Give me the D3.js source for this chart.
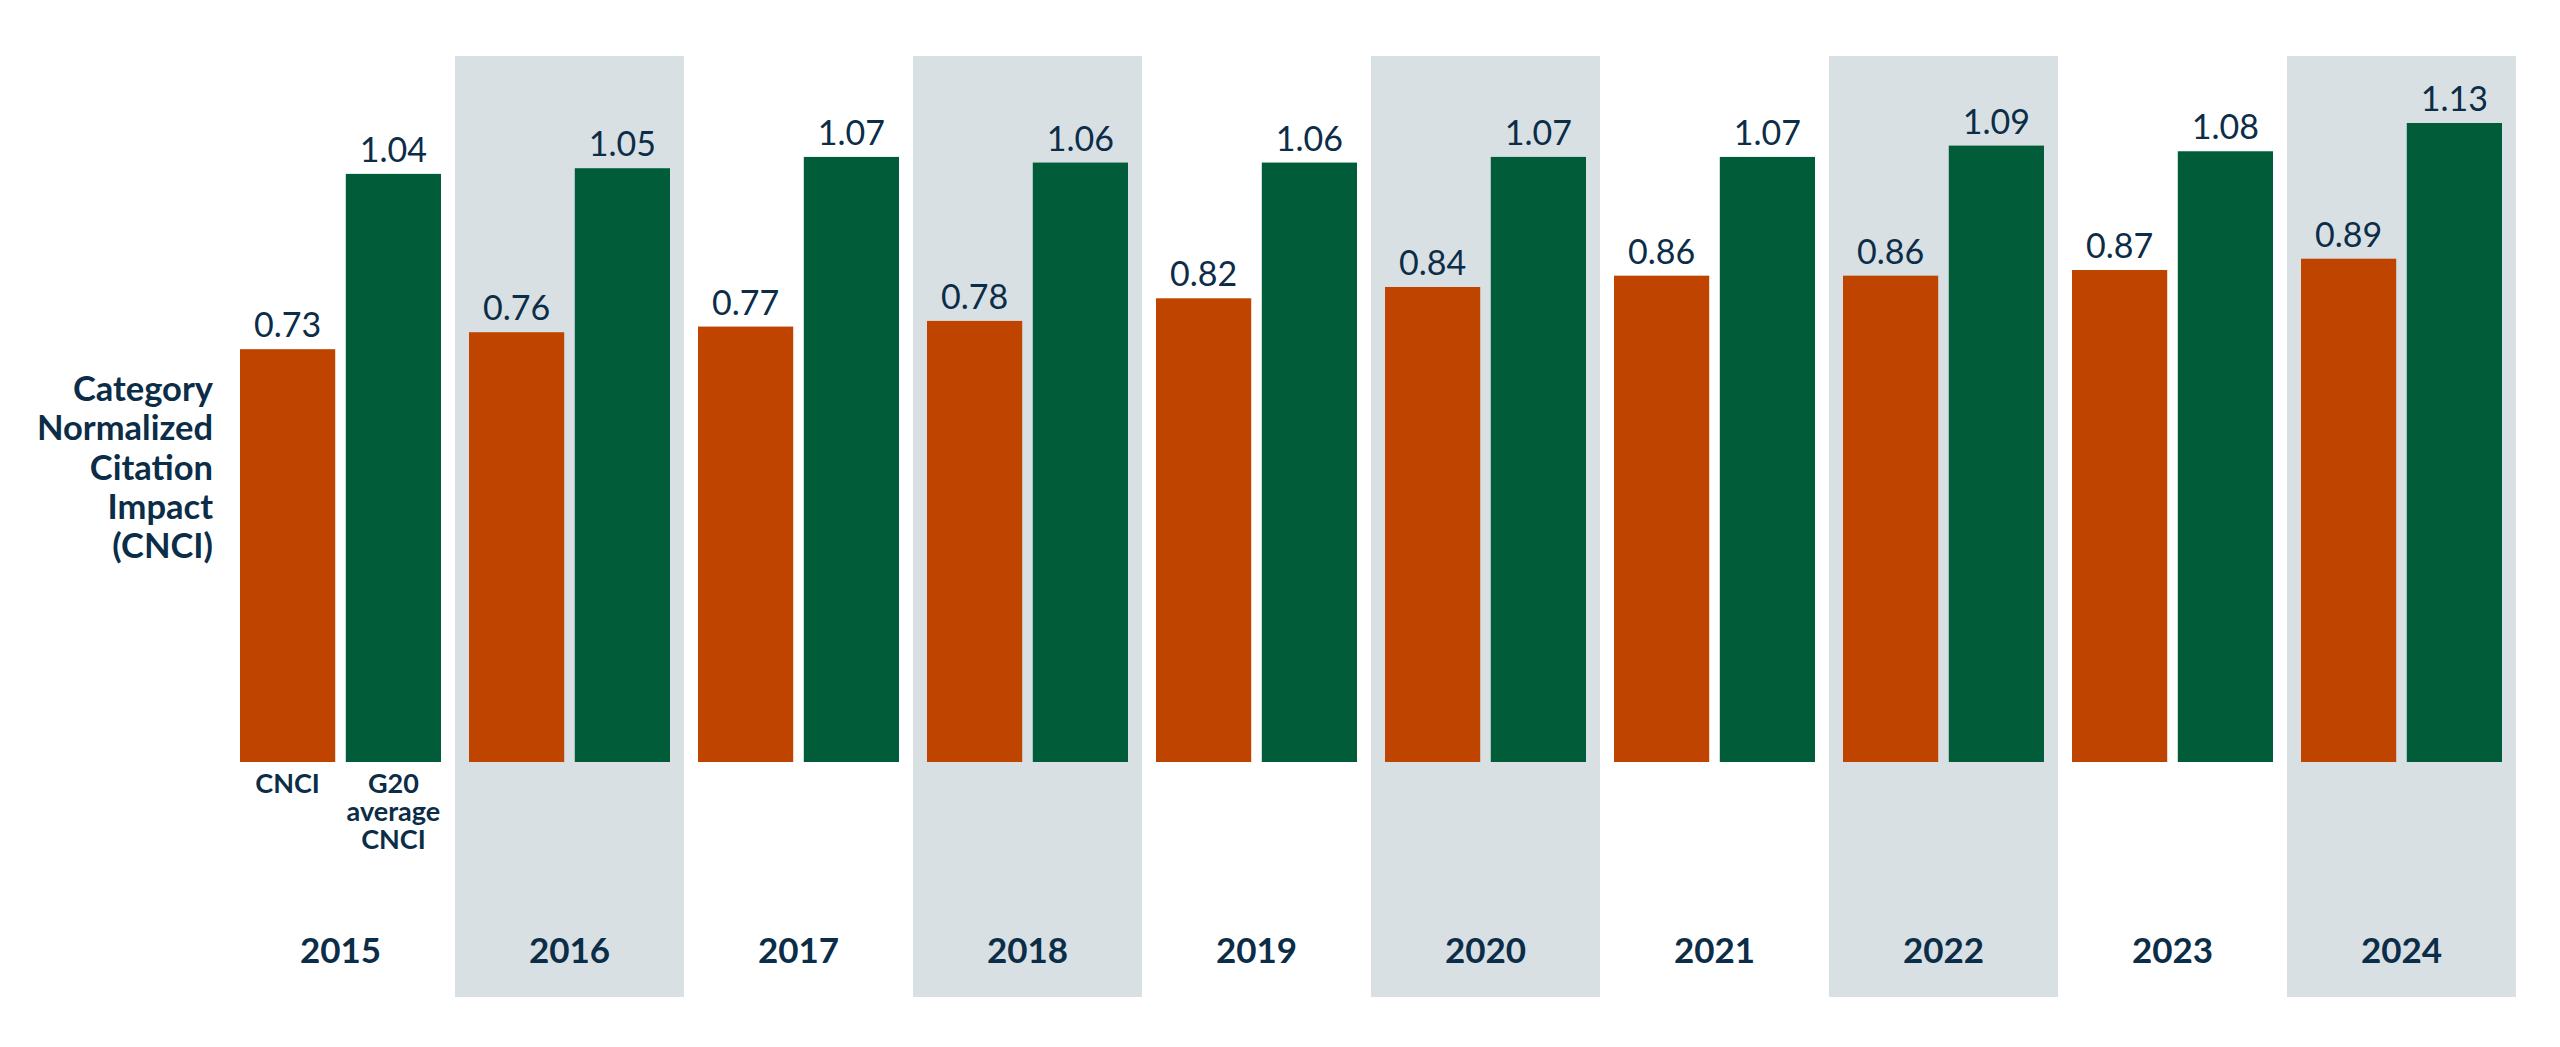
<!DOCTYPE html>
<html>
<head>
<meta charset="utf-8">
<script src="https://cdn.jsdelivr.net/npm/d3@7"></script>
<style>
  body { margin: 0; background: #fff; }
  text { font-family: Lato, "Open Sans", sans-serif; fill: #0c2d48; }
</style>
</head>
<body>
<div id="chart"></div>
<script>
// Data
const years = ['2015', '2016', '2017', '2018', '2019', '2020', '2021', '2022', '2023', '2024'];
const cnci = [0.73, 0.76, 0.77, 0.78, 0.82, 0.84, 0.86, 0.86, 0.87, 0.89];
const g20 = [1.04, 1.05, 1.07, 1.06, 1.06, 1.07, 1.07, 1.09, 1.08, 1.13];
const seriesKeys = ['cnci', 'g20'];
const seriesColors = { cnci: '#be4400', g20: '#005c39' };
const seriesLabels = { cnci: ['CNCI'], g20: ['G20', 'average', 'CNCI'] };
const axisTitle = ['Category', 'Normalized', 'Citation', 'Impact', '(CNCI)'];

const width = 2560, height = 1047;
const baseline = 762;

const svg = d3.select('#chart')
  .append('svg')
  .attr('width', width)
  .attr('height', height);

const x0 = d3.scaleBand()
  .domain(years)
  .range([226, 2516])
  .paddingInner(0);

const x1 = d3.scaleBand()
  .domain(seriesKeys)
  .range([14, 215])
  .paddingInner(0.1);

const y = d3.scaleLinear()
  .domain([0, 1])
  .range([baseline, baseline - 565.5]);

const rows = years.map((yr, i) => ({ year: yr, i: i, cnci: cnci[i], g20: g20[i] }));

// alternating shaded year bands
svg.selectAll('rect.band')
  .data(rows.filter(d => d.i % 2 === 1))
  .enter().append('rect')
  .attr('class', 'band')
  .attr('x', d => x0(d.year))
  .attr('y', 56)
  .attr('width', x0.bandwidth())
  .attr('height', 997 - 56)
  .attr('fill', '#d9e0e4');

const groups = svg.selectAll('g.year')
  .data(rows)
  .enter().append('g')
  .attr('class', 'year')
  .attr('transform', d => `translate(${x0(d.year)},0)`);

groups.selectAll('rect.bar')
  .data(d => seriesKeys.map(k => ({ key: k, value: d[k] })))
  .enter().append('rect')
  .attr('class', 'bar')
  .attr('x', d => x1(d.key))
  .attr('y', d => y(d.value))
  .attr('width', x1.bandwidth())
  .attr('height', d => baseline - y(d.value))
  .attr('fill', d => seriesColors[d.key]);

// value labels
groups.selectAll('text.val')
  .data(d => seriesKeys.map(k => ({ key: k, value: d[k] })))
  .enter().append('text')
  .attr('class', 'val')
  .attr('x', d => x1(d.key) + x1.bandwidth() / 2)
  .attr('y', d => y(d.value) - 12)
  .attr('text-anchor', 'middle')
  .style('font-size', '34px')
  .text(d => d.value.toFixed(2));

// year labels
groups.append('text')
  .attr('x', x0.bandwidth() / 2)
  .attr('y', 963)
  .attr('text-anchor', 'middle')
  .style('font-size', '35px')
  .style('font-weight', 'bold')
  .text(d => d.year);

// series labels under the first group
const first = svg.append('g')
  .attr('transform', `translate(${x0(years[0])},0)`);

seriesKeys.forEach(k => {
  first.append('text')
    .attr('text-anchor', 'middle')
    .style('font-size', '27px')
    .style('font-weight', 'bold')
    .selectAll('tspan')
    .data(seriesLabels[k])
    .enter().append('tspan')
    .attr('x', x1(k) + x1.bandwidth() / 2)
    .attr('y', (d, i) => 793 + i * 28)
    .text(d => d);
});

// y axis title
svg.append('text')
  .attr('text-anchor', 'end')
  .style('font-size', '34.5px')
  .style('font-weight', 'bold')
  .selectAll('tspan')
  .data(axisTitle)
  .enter().append('tspan')
  .attr('x', 213)
  .attr('y', (d, i) => 401 + i * 39.3)
  .text(d => d);
</script>
</body>
</html>
